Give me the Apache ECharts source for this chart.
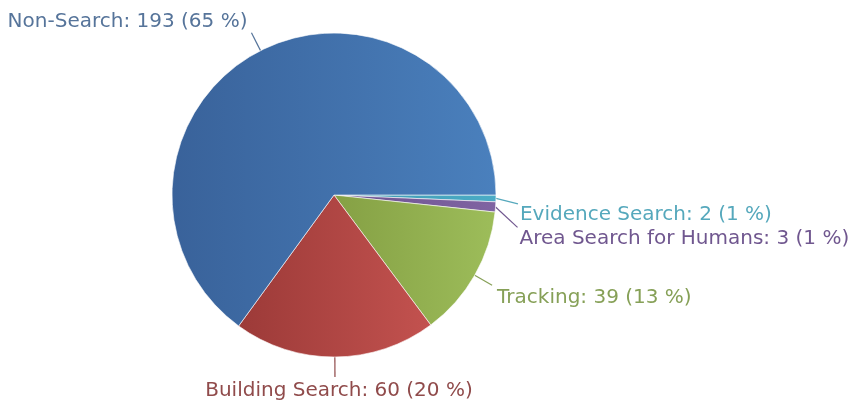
<!DOCTYPE html>
<html>
<head>
<meta charset="utf-8">
<script src="https://cdn.jsdelivr.net/npm/echarts@6/dist/echarts.min.js"></script>
<style>
  html, body { margin: 0; padding: 0; background: #fff; }
  #chart { width: 854px; height: 405px; }
</style>
</head>
<body>
<div id="chart"></div>
<script>
// data
const categories = ['Evidence Search', 'Area Search for Humans', 'Tracking', 'Building Search', 'Non-Search'];
const values = [2, 3, 39, 60, 193];
// slice colours: [dark edge, light edge], label colour
const sliceColors = [
    ['#3f98b0', '#4bacc6'],
    ['#6c5290', '#8064a2'],
    ['#85a044', '#9dbd5a'],
    ['#9c3a38', '#c3524f'],
    ['#39629a', '#4a80bd']
];
const labelColors = ['#55a8bc', '#70578f', '#86a057', '#904b4b', '#56749a'];
// small slices are pushed down so their labels don't collide
const labelShift = [5, 19, 0, 0, 0];

const CX = 334, CY = 195, R = 162;
const total = values.reduce((a, b) => a + b, 0);

// mid angle of every slice, clockwise from 3 o'clock
const midAngles = [];
let acc = 0;
values.forEach(v => {
    midAngles.push((acc + v / 2) / total * Math.PI * 2);
    acc += v;
});

const chart = echarts.init(document.getElementById('chart'), null, { renderer: 'canvas' });

const option = {
    animation: false,
    series: [{
        type: 'pie',
        center: [CX, CY],
        radius: R,
        startAngle: 0,
        clockwise: true,
        data: categories.map((name, i) => ({
            name,
            value: values[i],
            itemStyle: {
                color: new echarts.graphic.LinearGradient(0, 0, 1, 0, [
                    { offset: 0, color: sliceColors[i][0] },
                    { offset: 1, color: sliceColors[i][1] }
                ])
            },
            label: { color: labelColors[i] },
            labelLine: { lineStyle: { color: labelColors[i] } }
        })),
        itemStyle: {
            borderColor: 'rgba(255,255,255,0.6)',
            borderWidth: 1
        },
        label: {
            fontFamily: 'DejaVu Sans',
            fontSize: 20,
            overflow: 'none',
            formatter: p => p.name + ': ' + p.value + ' (' + Math.round(p.value / total * 100) + ' %)'
        },
        labelLine: {
            show: true,
            lineStyle: { width: 1.2 }
        },
        labelLayout: params => {
            const i = params.dataIndex;
            const a = midAngles[i];
            const dx = Math.cos(a), dy = Math.sin(a);
            const sx = CX + R * dx, sy = CY + R * dy;
            const len = labelShift[i] ? 18 : 20;
            const ex = sx + dx * len + (labelShift[i] ? 4 : 0);
            const ey = sy + dy * len + labelShift[i];
            let res;
            if (Math.abs(dx) < 0.15) {
                res = { x: ex + 4, y: ey + 4, align: 'center', verticalAlign: 'top' };
            } else if (dx > 0) {
                const moved = labelShift[i] > 0;
                res = { x: ex + (moved ? 2 : 5), y: ey + (moved ? 1 : 3), align: 'left', verticalAlign: 'top' };
            } else {
                res = { x: ex - 4, y: ey - 1, align: 'right', verticalAlign: 'bottom' };
            }
            res.width = 400;
            res.labelLinePoints = [[sx, sy], [ex, ey], [ex, ey]];
            return res;
        }
    }]
};

chart.setOption(option);
</script>
</body>
</html>
